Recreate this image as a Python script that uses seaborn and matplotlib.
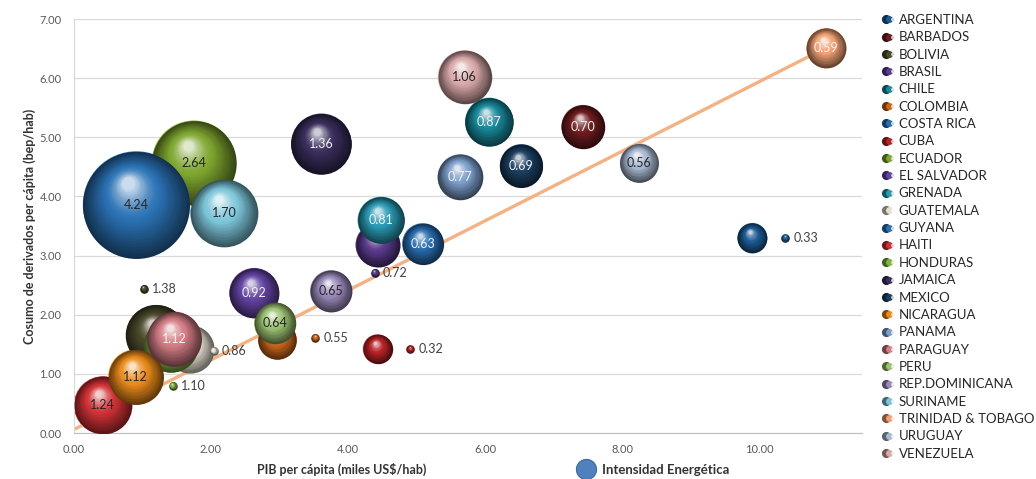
import matplotlib
matplotlib.use("Agg")
import matplotlib.pyplot as plt
import matplotlib.colors as mcolors
from matplotlib.lines import Line2D
from matplotlib.legend_handler import HandlerTuple
from matplotlib.ticker import MultipleLocator, FormatStrFormatter
import numpy as np
import pandas as pd
import seaborn as sns

# datos
paises = ["ARGENTINA", "BARBADOS", "BOLIVIA", "BRASIL", "CHILE", "COLOMBIA",
          "COSTA RICA", "CUBA", "ECUADOR", "EL SALVADOR", "GRENADA", "GUATEMALA",
          "GUYANA", "HAITI", "HONDURAS", "JAMAICA", "MEXICO", "NICARAGUA",
          "PANAMA", "PARAGUAY", "PERU", "REP.DOMINICANA", "SURINAME",
          "TRINIDAD & TOBAGO", "URUGUAY", "VENEZUELA"]
pib = [9.90, 7.43, 1.20, 4.43, 6.06, 2.97, 5.09, 4.43, 1.75, 2.63, 4.48, 1.69,
       0.91, 0.42, 1.41, 3.61, 6.53, 0.90, 5.64, 1.46, 2.93, 3.75, 2.19,
       10.98, 8.25, 5.70]
consumo = [3.30, 5.18, 1.65, 3.18, 5.26, 1.57, 3.20, 1.42, 4.57, 2.37, 3.60, 1.42,
           3.86, 0.47, 1.48, 4.89, 4.52, 0.95, 4.33, 1.59, 1.86, 2.40, 3.72,
           6.51, 4.57, 6.02]
intensidad = [0.33, 0.70, 1.38, 0.72, 0.87, 0.55, 0.63, 0.32, 2.64, 0.92, 0.81, 0.86,
              4.24, 1.24, 1.10, 1.36, 0.69, 1.12, 0.77, 1.12, 0.64, 0.65, 1.70,
              0.59, 0.56, 1.06]
colores = ["#1d5a94", "#6e1c1f", "#4b4a2c", "#5a3a8c", "#17899a", "#c8661c",
           "#2a6db0", "#b82226", "#7ea52f", "#6444a3", "#2a9bb3", "#e6e0d2",
           "#2b72b5", "#d03236", "#82b444", "#3a2e5c", "#1b3f60", "#e98b1b",
           "#7b9dc9", "#d27c84", "#9cc272", "#9a89b9", "#7cc5d9", "#f0a072",
           "#a9b9d1", "#d9a9aa"]
# recta de tendencia (ordenada, pendiente)
tendencia = (0.06, 0.588)

# etiquetas fuera de la burbuja: desplazamiento del punto de etiqueta
etiqueta_fuera = {"ARGENTINA": (0.48, 0.0), "BOLIVIA": (-0.18, 0.79),
                  "BRASIL": (-0.04, -0.47), "COLOMBIA": (0.55, 0.04),
                  "CUBA": (0.48, 0.0), "GUATEMALA": (0.35, -0.03),
                  "HONDURAS": (0.03, -0.68)}
texto_claro = {"BARBADOS", "CHILE", "COSTA RICA", "EL SALVADOR", "GRENADA",
               "JAMAICA", "MEXICO", "PANAMA", "PARAGUAY", "TRINIDAD & TOBAGO"}

df = pd.DataFrame({"pais": paises, "pib": pib, "consumo": consumo,
                   "intensidad": intensidad})
paleta = dict(zip(paises, colores))

sns.set_style("white")
plt.rcParams["font.family"] = ["Lato", "DejaVu Sans"]

xmin, xmax, ymin, ymax = 0, 11.5, 0, 7
vmax = 4.24
smax = 5929.0  # area (pt^2) de la burbuja mayor

fig = plt.figure(figsize=(10.36, 4.79), dpi=100)
ax = fig.add_axes([0.0714, 0.096, 0.7606, 0.8643])


def tono(c, t):
    c = np.array(mcolors.to_rgb(c))
    oscuro = c * 0.42
    claro = c + (1 - c) * 0.75
    if t < 0.55:
        return tuple(oscuro + (c - oscuro) * (t / 0.55))
    return tuple(c + (claro - c) * ((t - 0.55) / 0.45) ** 1.5)


# base de burbujas con seaborn
sns.scatterplot(data=df, x="pib", y="consumo", hue="pais", palette=paleta,
                size="intensidad", sizes=(0, smax), size_norm=(0, vmax),
                linewidth=0, legend=False, ax=ax, zorder=2)

ax.set_xlim(xmin, xmax)
ax.set_ylim(ymin, ymax)

# linea de tendencia
xt = np.array([0, df["pib"].max()])
ax.plot(xt, tendencia[0] + tendencia[1] * xt, color="#f4b183", lw=2.4,
        zorder=2.5, solid_capstyle="butt")

pos = ax.get_position()
ppx = pos.width * fig.get_figwidth() * 72 / (xmax - xmin)
ppy = pos.height * fig.get_figheight() * 72 / (ymax - ymin)


def esfera(x, y, diam, color, z):
    R = diam / 2
    n = max(6, int(diam * 0.6))
    for j in range(n):
        t = j / (n - 1)
        f = 1 - 0.88 * t
        ox = -0.15 * R * t / ppx
        oy = 0.40 * R * t / ppy
        ax.scatter(x + ox, y + oy, s=(2 * R * f) ** 2, color=tono(color, t),
                   linewidth=0, zorder=z)


for i, r in df.iterrows():
    z = 3 + i * 0.01
    d = np.sqrt(smax * r.intensidad / vmax)
    esfera(r.pib, r.consumo, d, paleta[r.pais], z)
    if r.pais in etiqueta_fuera:
        dx, dy = etiqueta_fuera[r.pais]
        esfera(r.pib + dx, r.consumo + dy, 6.2, paleta[r.pais], 3.5)
        ax.annotate(f"{r.intensidad:.2f}", (r.pib + dx, r.consumo + dy),
                    xytext=(6, 0), textcoords="offset points", ha="left",
                    va="center", fontsize=9, color="#404040", zorder=4)
    else:
        col = "#f2f2f2" if r.pais in texto_claro else "#262626"
        ax.text(r.pib, r.consumo, f"{r.intensidad:.2f}", ha="center",
                va="center", fontsize=9, color=col, zorder=z + 0.005)

# ejes
ax.yaxis.set_major_locator(MultipleLocator(1))
ax.xaxis.set_major_locator(MultipleLocator(2))
ax.xaxis.set_minor_locator(MultipleLocator(0.4))
ax.xaxis.set_major_formatter(FormatStrFormatter("%.2f"))
ax.yaxis.set_major_formatter(FormatStrFormatter("%.2f"))
ax.grid(axis="y", color="#d9d9d9", lw=0.9, zorder=0)
ax.set_axisbelow(True)
for s in ["top", "right"]:
    ax.spines[s].set_visible(False)
ax.spines["left"].set_color("#d9d9d9")
ax.spines["bottom"].set_color("#bfbfbf")
ax.tick_params(axis="y", length=0, labelsize=8, labelcolor="#595959", pad=9)
ax.tick_params(axis="x", which="both", direction="in", length=2.5,
               color="#bfbfbf", labelsize=8, labelcolor="#595959", pad=8)

ax.set_xlabel("PIB per cápita (miles US$/hab)", fontsize=9, fontweight="bold",
              color="#333333", va="center")
ax.xaxis.set_label_coords(0.34, -0.089)
ax.set_ylabel("Cosumo de derivados per cápita (bep/hab)", fontsize=9,
              fontweight="bold", color="#333333", va="center")
ax.yaxis.set_label_coords(-0.056, 0.5)

# leyenda de paises
manejadores = []
for p in paises:
    c = paleta[p]
    manejadores.append((
        Line2D([], [], ls="", marker="o", ms=6.6, mew=0, color=tono(c, 0.1)),
        Line2D([], [], ls="", marker="o", ms=5.0, mew=0, color=tono(c, 0.55)),
        Line2D([], [], ls="", marker="o", ms=2.2, mew=0, color=tono(c, 1.0)),
    ))
leg = fig.legend(manejadores, paises, loc="upper left",
                 bbox_to_anchor=(884 / 1036, 1 - 14 / 479), frameon=False,
                 fontsize=9.5, borderpad=0, borderaxespad=0, handlelength=0.75,
                 handletextpad=0.35, labelspacing=0.405,
                 handler_map={tuple: HandlerTuple(ndivide=None, pad=0)})
for t in leg.get_texts():
    t.set_color("#262626")

# leyenda de tamano
leg2 = fig.legend([Line2D([], [], ls="", marker="o", ms=14.5, mew=0.8,
                          color="#4f81bd", mec="#3a6aa3")],
                  ["Intensidad Energética"], loc="center left",
                  bbox_to_anchor=(577 / 1036, 1 - 470 / 479), frameon=False,
                  fontsize=9.5, borderpad=0, borderaxespad=0,
                  handlelength=1.4, handletextpad=0.5)
for t in leg2.get_texts():
    t.set_fontweight("bold")
    t.set_color("#333333")

fig.savefig("out.png", dpi=100)
